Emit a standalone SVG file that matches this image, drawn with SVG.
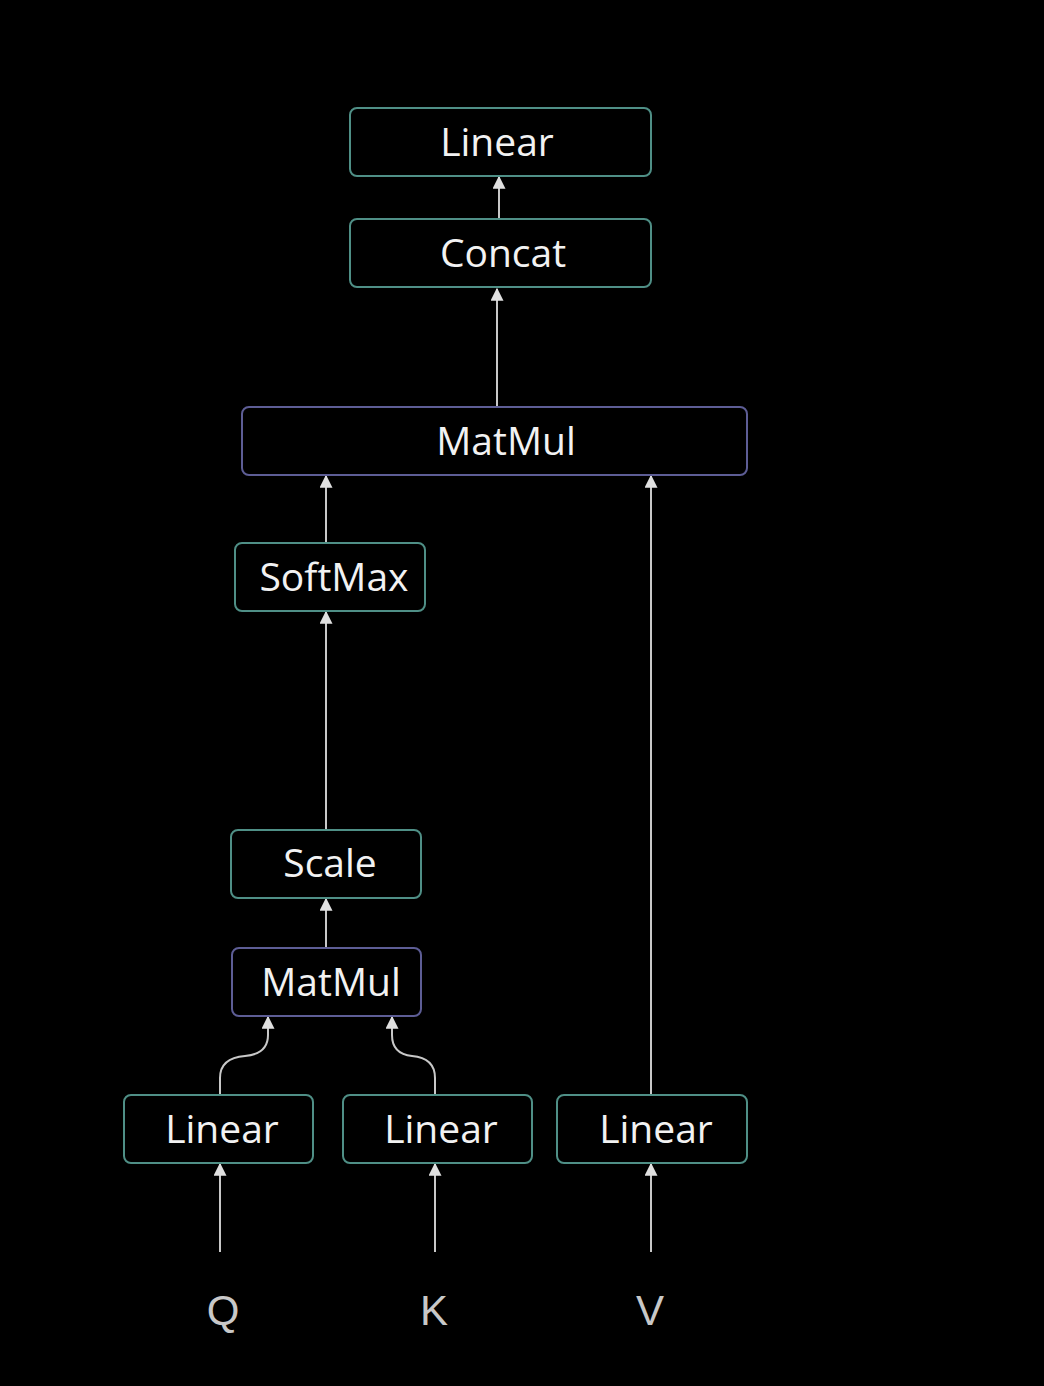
<svg xmlns="http://www.w3.org/2000/svg" width="1044" height="1386" viewBox="0 0 1044 1386">
<defs>
<marker id="ah" viewBox="0 0 10 10" refX="9" refY="5" markerWidth="6.5" markerHeight="6.5" orient="auto" markerUnits="strokeWidth">
<path d="M0,0 L10,5 L0,10 z" fill="#e0e0e0"/>
</marker>
<style>
.box{fill:#000;stroke:#4f8f86;stroke-width:2}
.mm{fill:#000;stroke:#5d5d95;stroke-width:2}
.lbl{font-family:"Open Sans","Noto Sans",sans-serif;font-size:39px;fill:#f2f2f2;text-anchor:middle}
.io{font-family:"Liberation Sans",Arial,sans-serif;font-size:42px;fill:#c8c8c8;text-anchor:middle}
.c{fill:none;stroke:#c8c8c8;stroke-width:2;marker-end:url(#ah)}
</style>
</defs>
<rect width="1044" height="1386" fill="#000"/>
<g id="connectors">
<path class="c" d="M499,219 V177"/>
<path class="c" d="M497,407 V289"/>
<path class="c" d="M326,543 V476"/>
<path class="c" d="M651,1095 V476"/>
<path class="c" d="M326,830 V612"/>
<path class="c" d="M326,948 V899"/>
<path class="c" d="M220,1095 V1078 Q220,1058 245,1056 Q268,1054 268,1035 V1017"/>
<path class="c" d="M435,1095 V1078 Q435,1058 412,1056 Q392,1054 392,1035 V1017"/>
<path class="c" d="M220,1252 V1164"/>
<path class="c" d="M435,1252 V1164"/>
<path class="c" d="M651,1252 V1164"/>
</g>
<g id="linear-top"><rect class="box" x="350" y="108" width="301" height="68" rx="7"/><text class="lbl" x="497" y="156">Linear</text></g>
<g id="concat"><rect class="box" x="350" y="219" width="301" height="68" rx="7"/><text class="lbl" x="503" y="267">Concat</text></g>
<g id="matmul-top"><rect class="mm" x="242" y="407" width="505" height="68" rx="7"/><text class="lbl" x="506" y="455">MatMul</text></g>
<g id="softmax"><rect class="box" x="235" y="543" width="190" height="68" rx="7"/><text class="lbl" x="334" y="591">SoftMax</text></g>
<g id="scale"><rect class="box" x="231" y="830" width="190" height="68" rx="7"/><text class="lbl" x="330" y="877">Scale</text></g>
<g id="matmul-bottom"><rect class="mm" x="232" y="948" width="189" height="68" rx="7"/><text class="lbl" x="331" y="996">MatMul</text></g>
<g id="linear-q"><rect class="box" x="124" y="1095" width="189" height="68" rx="7"/><text class="lbl" x="222" y="1143">Linear</text></g>
<g id="linear-k"><rect class="box" x="343" y="1095" width="189" height="68" rx="7"/><text class="lbl" x="441" y="1143">Linear</text></g>
<g id="linear-v"><rect class="box" x="557" y="1095" width="190" height="68" rx="7"/><text class="lbl" x="656" y="1143">Linear</text></g>
<g id="q"><text class="io" x="223" y="1325">Q</text></g>
<g id="k"><text class="io" x="434" y="1325">K</text></g>
<g id="v"><text class="io" x="650" y="1325">V</text></g>
</svg>
